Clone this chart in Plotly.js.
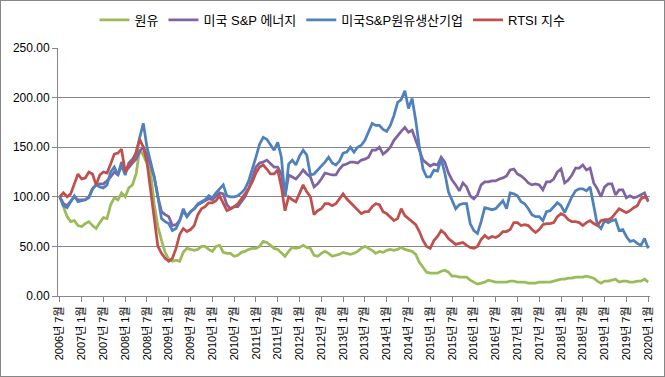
<!DOCTYPE html>
<html>
<head>
<meta charset="utf-8">
<script src="https://cdn.plot.ly/plotly-3.0.1.min.js"></script>
<style>
  html, body { margin: 0; padding: 0; background: #fff; }
  #wrap { position: relative; width: 665px; height: 377px; }
  #chart { width: 665px; height: 377px; }
  #frame { position: absolute; left: 0; top: 0; width: 663px; height: 375px; border: 1px solid #868686; pointer-events: none; }
</style>
</head>
<body>
<div id="wrap"><div id="chart"></div><div id="frame"></div></div>
<script>
// Monthly categories: 2006-07 .. 2020-01 (163 months)
const startYear = 2006, startMonth = 7, monthCount = 163;
const categories = [];
for (let k = 0; k < monthCount; k++) {
  const m0 = startMonth - 1 + k;
  categories.push((startYear + Math.floor(m0 / 12)) + "년 " + ((m0 % 12) + 1) + "월");
}
// tick labels every 6 months
const tickLabels = categories.filter((c, k) => k % 6 === 0);

const seriesNames = ["원유", "미국 S&P 에너지", "미국S&P원유생산기업", "RTSI 지수"];

const crudeOil = [
  100,90,80,75,76,71,70,73,75,71,
  68,74,79,78,92,99,97,104,100,109,
  112,123,148,142,134,125,92,70,56,44,
  37,35,36,35,44,48,47,46,47,50,
  50,47,45,50,51,44,43,43,40,41,
  44,45,47,48,48,50,55,54,51,48,
  47,43,40,45,49,48,49,51,49,48,
  41,40,43,45,43,40,41,42,44,43,
  42,43,45,48,50,48,46,43,45,44,
  46,47,46,47,49,47,46,45,42,34,
  29,24,23,23,23,25,26,24,
  20,20,19,19,19,16,14,12,13,14,
  16,15,14,14,14,14,15,15,14,14,
  14,13,13,13,14,14,14,14,15,16,
  17,17,18,18,19,19,19,20,19,18,
  15,13,15,15,16,17,14,15,15,14,
  14,15,15,17,14
];

const spEnergy = [
  100,93,91,96,100,97,97,97,100,108,
  112,113,113,116,120,125,122,135,125,130,
  134,138,146,150,142,132,120,100,85,82,
  80,71,72,76,86,80,85,88,92,94,
  96,98,97,101,104,103,92,88,90,90,
  95,100,108,120,130,134,135,137,133,130,
  130,123,100,122,120,118,122,127,123,120,
  110,113,118,124,123,122,122,128,132,133,
  135,135,134,137,138,140,147,147,150,143,
  146,150,157,162,166,170,165,167,157,146,
  137,134,131,133,132,140,135,124,
  117,112,106,114,110,101,98,102,112,115,
  115,116,116,118,119,121,127,128,123,121,
  118,114,112,113,112,107,115,115,118,125,
  128,114,117,122,129,129,132,127,129,114,
  108,100,110,113,113,102,107,107,99,101,
  99,100,102,104,95
];

const spOilProducers = [
  100,91,89,95,101,95,96,97,99,108,
  112,110,109,112,125,130,122,132,122,134,
  138,143,160,174,150,134,120,100,78,75,
  73,66,68,76,88,80,85,88,93,95,
  97,101,99,104,108,112,101,100,100,101,
  104,108,116,127,140,153,160,158,153,147,
  155,140,100,133,137,132,141,147,142,122,
  123,127,130,135,140,134,132,136,144,145,
  150,145,150,152,157,165,174,172,172,168,
  166,172,182,195,198,207,189,199,177,150,
  128,120,120,127,126,138,124,105,
  97,88,92,93,93,73,66,63,75,89,
  88,87,88,92,96,88,104,103,101,95,
  93,88,82,80,80,76,85,86,90,94,
  91,84,92,100,106,108,108,106,110,90,
  72,68,76,74,76,77,66,67,60,55,
  56,53,51,58,48
];

const rtsi = [
  100,104,100,103,113,123,118,119,125,123,
  112,122,125,124,133,143,144,148,125,133,
  136,145,158,150,135,105,75,50,43,38,
  35,38,48,62,68,65,67,71,82,88,
  90,94,94,96,101,93,86,88,90,93,
  98,102,108,115,124,130,132,128,123,123,
  127,110,86,100,97,95,104,112,105,100,
  82,86,88,93,93,91,93,98,103,98,
  94,90,86,83,85,85,90,93,92,85,
  83,79,76,78,88,81,78,75,72,65,
  56,50,48,56,60,66,63,58,
  55,52,53,54,51,49,48,50,57,61,
  58,60,59,61,65,65,67,74,74,71,
  72,71,67,64,67,72,73,73,74,80,
  83,81,77,75,75,74,71,74,76,73,
  71,76,77,77,79,83,88,86,84,86,
  89,91,98,100,97
];

const colors = ["#9BBB59", "#8064A2", "#4F81BD", "#C0504D"];
const allSeries = [crudeOil, spEnergy, spOilProducers, rtsi];

const FONT = "'Liberation Sans', Arial, 'Noto Sans CJK KR', sans-serif";

const traces = allSeries.map((vals, s) => ({
  type: "scatter",
  mode: "lines",
  name: seriesNames[s],
  x: categories,
  y: vals,
  line: { color: colors[s], width: 2.75 },
  hoverinfo: "skip"
}));

const layout = {
  width: 665,
  height: 377,
  margin: { l: 58, r: 15, t: 48, b: 81 },
  paper_bgcolor: "#ffffff",
  plot_bgcolor: "#ffffff",
  font: { family: FONT, size: 12, color: "#000000" },
  showlegend: true,
  legend: {
    orientation: "h",
    xref: "container", yref: "container",
    x: 0.5, xanchor: "center",
    y: 0.947, yanchor: "middle",
    font: { family: FONT, size: 13, color: "#000000" },
    itemwidth: 30,
    tracegroupgap: 0
  },
  xaxis: {
    type: "category",
    categoryorder: "array",
    categoryarray: categories,
    range: [-0.5, monthCount - 0.5],
    tickmode: "array",
    tickvals: tickLabels,
    ticktext: tickLabels,
    tickangle: -90,
    tickfont: { family: FONT, size: 11, color: "#000000" },
    ticks: "outside",
    ticklen: 5,
    tickcolor: "#868686",
    showline: true,
    linecolor: "#868686",
    linewidth: 1,
    showgrid: false,
    zeroline: false,
    fixedrange: true
  },
  yaxis: {
    range: [0, 250],
    tickmode: "linear",
    tick0: 0,
    dtick: 50,
    tickformat: ".2f",
    tickfont: { family: FONT, size: 12, color: "#000000" },
    ticks: "outside",
    ticklen: 5,
    tickcolor: "#868686",
    showline: true,
    linecolor: "#868686",
    linewidth: 1,
    showgrid: true,
    gridcolor: "#868686",
    gridwidth: 1,
    zeroline: false,
    fixedrange: true
  }
};

Plotly.newPlot("chart", traces, layout, { staticPlot: true, displayModeBar: false });
</script>
</body>
</html>
